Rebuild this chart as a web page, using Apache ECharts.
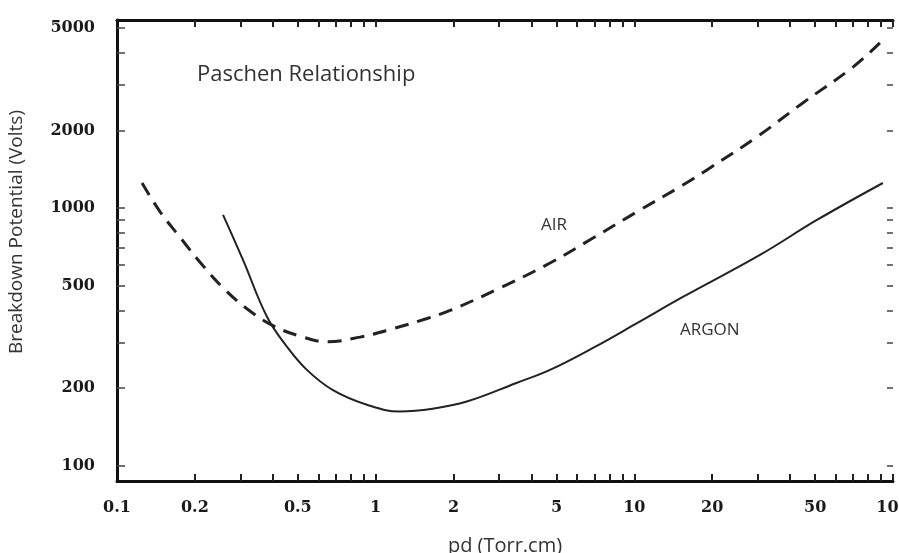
<!DOCTYPE html>
<html><head><meta charset="utf-8">
<script src="https://cdn.jsdelivr.net/npm/echarts@6/dist/echarts.min.js"></script>
<style>html,body{margin:0;padding:0;background:#fff}#c{width:899px;height:553px}</style>
</head><body><div id="c"></div>
<script>
// pd (Torr.cm) and breakdown potential (Volts)
const airPd =    [0.125, 0.147, 0.175, 0.209, 0.257, 0.318, 0.401, 0.509, 0.648, 0.869, 1.17, 1.58, 1.94, 2.94, 4.72, 6.92, 10.2, 15.4, 19.6, 29.8, 44.8, 70.0, 89];
const airV =     [1250,  964,   771,   617,   490,   406,   349,   318,   302,   315,   340,  372,  400,  482,  611,  764,  964,  1227, 1430, 1888, 2558, 3524, 4375];
const argonPd =  [0.257, 0.307, 0.380, 0.454, 0.542, 0.684, 0.925, 1.24, 1.66, 2.25, 3.5, 4.72, 6.92, 10.2, 15.4, 30.6, 50.8, 91.4];
const argonV =   [940,   628,   378,   289,   235,   196,   172,   162,  166,  177,  209, 235,  286,  356,  451,  657,  898,  1250];
const xTickLabels = [0.1, 0.2, 0.5, 1, 2, 5, 10, 20, 50, 100];
const yTickLabels = [100, 200, 500, 1000, 2000, 5000];
const xMinorTicks = [0.2,0.3,0.4,0.5,0.6,0.7,0.8,0.9,1,2,3,4,5,6,7,8,9,10,20,30,40,50,60,70,80,90,100];
const yMinorTicks = [100,200,300,400,500,600,700,800,900,1000,2000,3000,4000,5000];

const chart = echarts.init(document.getElementById('c'));
const labelFont = {fontFamily:'DejaVu Serif', fontWeight:'bold', fontSize:16, color:'#1a1a1a'};
chart.setOption({
  animation:false,
  backgroundColor:'#fff',
  grid:{left:117, top:20, width:776, height:461, outerBoundsMode:'none', containLabel:false},
  xAxis:[{
    type:'log', min:0.1, max:100, logBase:10,
    axisLine:{show:true, lineStyle:{color:'#111', width:3}},
    axisTick:{show:true, inside:true, length:7, lineStyle:{color:'#222', width:2}, customValues:xMinorTicks},
    minorTick:{show:false},
    axisLabel:Object.assign({margin:19, customValues:xTickLabels, formatter:v=>String(+(+v).toPrecision(3))}, labelFont),
    splitLine:{show:false},
    name:'pd (Torr.cm)', nameLocation:'middle', nameGap:55,
    nameTextStyle:{fontFamily:'Open Sans', fontSize:20, color:'#333'}
  },{
    type:'log', min:0.1, max:100, position:'top',
    axisLine:{show:true, lineStyle:{color:'#111', width:3}},
    axisTick:{show:true, inside:true, length:7, lineStyle:{color:'#222', width:2}, customValues:xMinorTicks},
    axisLabel:{show:false}, splitLine:{show:false}
  }],
  yAxis:[{
    type:'log', min:87, max:5370, logBase:10,
    axisLine:{show:true, lineStyle:{color:'#111', width:3}},
    axisTick:{show:true, inside:true, length:8, lineStyle:{color:'#444', width:1.5}, customValues:yMinorTicks},
    axisLabel:Object.assign({margin:22, customValues:yTickLabels, formatter:v=>String(Math.round(v))}, labelFont),
    splitLine:{show:false}
  },{
    type:'log', min:87, max:5370, position:'right',
    axisLine:{show:false},
    axisTick:{show:true, inside:true, length:6, lineStyle:{color:'#444', width:1.5}, customValues:yMinorTicks},
    axisLabel:{show:false}, splitLine:{show:false}
  }],
  series:[{
    name:'AIR', type:'line', smooth:0.4, symbol:'none',
    data:airPd.map((x,i)=>[x, airV[i]]),
    lineStyle:{color:'#222', width:3, type:[14,9]}
  },{
    name:'ARGON', type:'line', smooth:0.4, symbol:'none',
    data:argonPd.map((x,i)=>[x, argonV[i]]),
    lineStyle:{color:'#222', width:2}
  }],
  graphic:[
    {type:'text', x:17, y:232, rotation:Math.PI/2, style:{text:'Breakdown Potential (Volts)', font:'19px "Open Sans"', fill:'#333', align:'center', verticalAlign:'middle'}},
    {type:'text', left:197, top:64, style:{text:'Paschen Relationship', font:'22px "Open Sans"', fill:'#333'}},
    {type:'text', left:541, top:217, style:{text:'AIR', font:'17px "Open Sans"', fill:'#333'}},
    {type:'text', left:680, top:322, style:{text:'ARGON', font:'17px "Open Sans"', fill:'#333'}}
  ]
});
</script></body></html>
